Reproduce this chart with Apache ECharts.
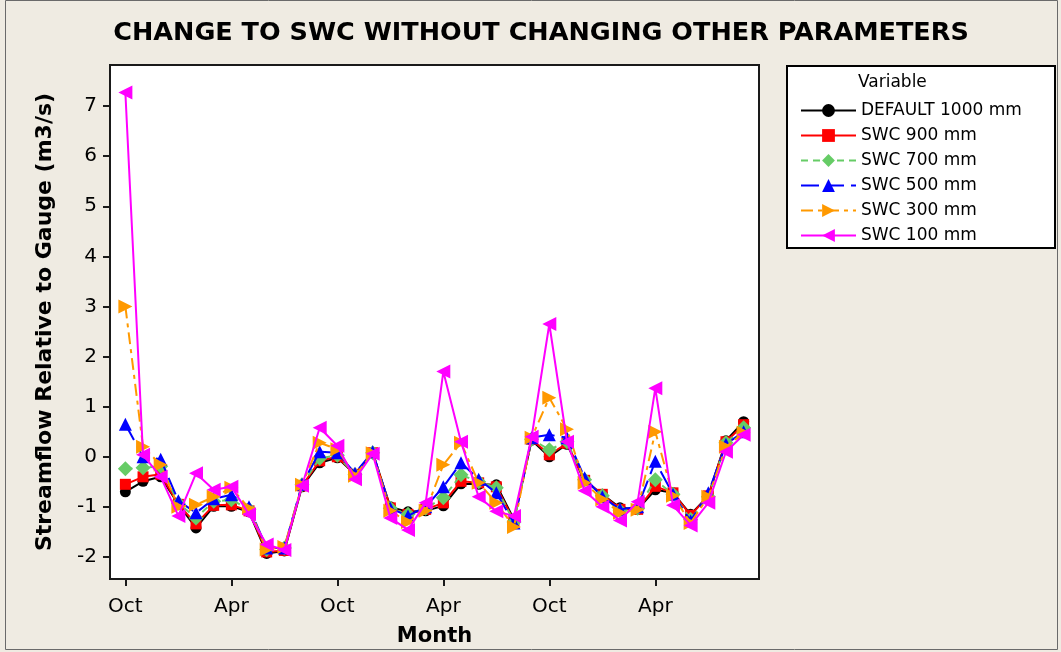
<!DOCTYPE html>
<html>
<head>
<meta charset="utf-8">
<script src="https://cdn.jsdelivr.net/npm/echarts@6/dist/echarts.min.js"></script>
<style>
html,body{margin:0;padding:0;background:#efebe2;}
#chart{width:1061px;height:652px;}
</style>
</head>
<body>
<div id="chart"></div>
<script>
// Months (36 monthly points, Oct of year 1 to Sep of year 4)
const months = ['Oct','Nov','Dec','Jan','Feb','Mar','Apr','May','Jun','Jul','Aug','Sep',
                'Oct','Nov','Dec','Jan','Feb','Mar','Apr','May','Jun','Jul','Aug','Sep',
                'Oct','Nov','Dec','Jan','Feb','Mar','Apr','May','Jun','Jul','Aug','Sep'];
const xTickIdx = [0, 6, 12, 18, 24, 30];
const yTicks = [-2, -1, 0, 1, 2, 3, 4, 5, 6, 7];

const seriesNames = ['DEFAULT 1000 mm','SWC 900 mm','SWC 700 mm','SWC 500 mm','SWC 300 mm','SWC 100 mm'];

const swc1000 = [-0.70,-0.49,-0.40,-0.95,-1.42,-0.99,-0.99,-1.10,-1.93,-1.88,-0.60,-0.12,
                 -0.02,-0.35, 0.08,-1.00,-1.10,-1.08,-0.98,-0.54,-0.55,-0.56,-1.25, 0.33,
                  0.00, 0.25,-0.48,-0.75,-1.02,-1.05,-0.66,-0.72,-1.15,-0.78, 0.32, 0.70];
const swc900  = [-0.55,-0.40,-0.35,-0.95,-1.34,-0.97,-0.96,-1.08,-1.90,-1.87,-0.58,-0.08,
                  0.00,-0.35, 0.08,-1.02,-1.15,-1.05,-0.92,-0.49,-0.52,-0.60,-1.28, 0.35,
                  0.04, 0.27,-0.47,-0.75,-1.05,-1.05,-0.59,-0.72,-1.17,-0.78, 0.30, 0.64];
const swc700  = [-0.24,-0.22,-0.19,-0.93,-1.22,-0.89,-0.86,-1.05,-1.85,-1.82,-0.56,-0.03,
                  0.03,-0.36, 0.08,-1.03,-1.15,-1.03,-0.82,-0.36,-0.50,-0.62,-1.30, 0.35,
                  0.14, 0.30,-0.46,-0.78,-1.08,-1.03,-0.46,-0.75,-1.25,-0.80, 0.28, 0.58];
const swc500  = [ 0.65, 0.00,-0.05,-0.88,-1.12,-0.84,-0.76,-1.00,-1.82,-1.82,-0.55, 0.10,
                  0.08,-0.33, 0.10,-1.03,-1.18,-1.00,-0.60,-0.12,-0.45,-0.72,-1.32, 0.38,
                  0.44, 0.38,-0.42,-0.80,-1.05,-1.00,-0.09,-0.75,-1.28,-0.72, 0.25, 0.50];
const swc300  = [ 3.00, 0.20,-0.16,-1.00,-0.96,-0.80,-0.62,-1.03,-1.85,-1.80,-0.56, 0.28,
                  0.15,-0.38, 0.07,-1.08,-1.30,-1.08,-0.16, 0.28,-0.52,-0.92,-1.40, 0.38,
                  1.18, 0.55,-0.52,-0.85,-1.12,-1.06, 0.50,-0.78,-1.32,-0.80, 0.20, 0.48];
const swc100  = [ 7.27, 0.04,-0.40,-1.18,-0.33,-0.66,-0.60,-1.15,-1.75,-1.86,-0.58, 0.58,
                  0.22,-0.45, 0.06,-1.22,-1.46,-0.92, 1.70, 0.30,-0.80,-1.09,-1.18, 0.40,
                  2.65, 0.30,-0.68,-1.00,-1.27,-0.90, 1.37,-0.97,-1.37,-0.92, 0.10, 0.44];

const allValues = [swc1000, swc900, swc700, swc500, swc300, swc100];
const colors = ['#000000','#ff0000','#66cc66','#0000ff','#ff9900','#ff00ff'];
const symbols = ['circle','rect','diamond','triangle','triangle','triangle'];
const rotations = [0, 0, 0, 0, -90, 90];
const dashes = ['solid','solid',[7,5],[18,7],[12,5,4,5],'solid'];
const sizes = [11, 11, 15, 13, 14, 14];

const FONT = 'DejaVu Sans';

const series = allValues.map((vals, k) => ({
  name: seriesNames[k],
  type: 'line',
  data: vals.map((v, i) => [i, v]),
  symbol: symbols[k],
  symbolRotate: rotations[k],
  symbolSize: sizes[k],
  showAllSymbol: true,
  color: colors[k],
  lineStyle: { color: colors[k], width: 2, type: dashes[k] },
  itemStyle: { color: colors[k] },
  emphasis: { disabled: true },
  animation: false,
  z: 2 + k
}));

const chart = echarts.init(document.getElementById('chart'), null, { renderer: 'canvas' });
chart.setOption({
  backgroundColor: '#efebe2',
  animation: false,
  title: {
    text: 'CHANGE TO SWC WITHOUT CHANGING OTHER PARAMETERS',
    left: 536, top: 15, textAlign: 'center',
    textStyle: { fontFamily: FONT, fontWeight: 'bold', fontSize: 25.5, color: '#000' }
  },
  grid: {
    left: 110, right: 302, top: 65, bottom: 73,
    show: true, backgroundColor: '#ffffff', borderColor: '#1a1a1a', borderWidth: 2
  },
  xAxis: {
    type: 'value', min: -0.87, max: 35.87,
    name: 'Month', nameLocation: 'middle', nameGap: 47,
    nameTextStyle: { fontFamily: FONT, fontWeight: 'bold', fontSize: 21, color: '#000' },
    axisLine: { show: true, onZero: false, lineStyle: { color: '#1a1a1a', width: 2 } },
    axisTick: { show: true, length: 7, inside: false, customValues: xTickIdx, lineStyle: { color: '#1a1a1a', width: 2 } },
    axisLabel: { customValues: xTickIdx, formatter: v => months[Math.round(v)], margin: 18,
                 fontFamily: FONT, fontSize: 20, color: '#000' },
    splitLine: { show: false }
  },
  yAxis: {
    type: 'value', min: -2.44, max: 7.82,
    name: 'Streamflow Relative to Gauge (m3/s)', nameLocation: 'middle', nameGap: 54, nameRotate: 90,
    nameTextStyle: { fontFamily: FONT, fontWeight: 'bold', fontSize: 22, color: '#000' },
    axisLine: { show: true, onZero: false, lineStyle: { color: '#1a1a1a', width: 2 } },
    axisTick: { show: true, length: 7, customValues: yTicks, lineStyle: { color: '#1a1a1a', width: 2 } },
    axisLabel: { customValues: yTicks, margin: 13, fontFamily: FONT, fontSize: 20, color: '#000' },
    splitLine: { show: false }
  },
  legend: {
    data: seriesNames,
    orient: 'vertical',
    left: 795, top: 97,
    itemWidth: 55, itemHeight: 16, itemGap: 8,
    textStyle: { fontFamily: FONT, fontSize: 17, color: '#000' },
    selectedMode: false,
    z: 10
  },
  graphic: [
    { type: 'rect', z: -1, silent: true,
      shape: { x: 5.5, y: 0.5, width: 1052, height: 649 },
      style: { fill: null, stroke: '#6a6a6a', lineWidth: 1 } },
    { type: 'rect', z: 5, silent: true,
      shape: { x: 787, y: 66, width: 268, height: 182 },
      style: { fill: '#ffffff', stroke: '#000000', lineWidth: 2 } },
    { type: 'text', z: 11, silent: true, left: 858, top: 74,
      style: { text: 'Variable', fontFamily: FONT, fontSize: 17, fill: '#000' } }
  ],
  series: series
});
</script>
</body>
</html>
